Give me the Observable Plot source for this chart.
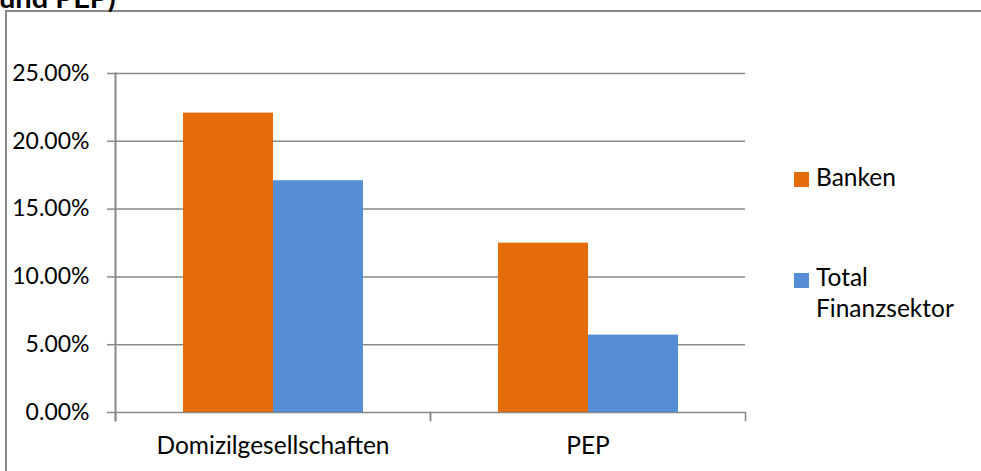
<!DOCTYPE html>
<html>
<head>
<meta charset="utf-8">
<script src="https://cdn.jsdelivr.net/npm/d3@7"></script>
<script src="https://cdn.jsdelivr.net/npm/@observablehq/plot@0.6"></script>
<style>
  html, body { margin: 0; padding: 0; background: #fff; }
  #wrap { position: relative; width: 981px; height: 471px; overflow: hidden; background: #fff; font-family: Lato, "Open Sans", sans-serif; color: #000; }
  #border { position: absolute; left: 5px; top: 10px; width: 990px; height: 480px; border-top: 2px solid #888; border-left: 2px solid #888; box-sizing: border-box; }
  #title { position: absolute; left: -1px; top: -17px; font-weight: bold; font-size: 29px; line-height: 28px; white-space: nowrap; }
  #chart { position: absolute; left: 0; top: 0; }
  .leg { position: absolute; left: 794px; }
  .sw { position: absolute; left: 0; width: 15px; height: 15px; }
  .lt { position: absolute; left: 22px; font-size: 24.5px; line-height: 30.5px; white-space: nowrap; }
</style>
</head>
<body>
<div id="wrap">
  <div id="border"></div>
  <div id="title">und PEP)</div>
  <div id="chart"></div>
  <div id="legend"></div>
</div>
<script>
const categories = ["Domizilgesellschaften", "PEP"];
const series = ["Banken", "Total Finanzsektor"];
const legendLines = [["Banken"], ["Total", "Finanzsektor"]];
const banken = [0.2208, 0.1249];
const totalFinanzsektor = [0.1709, 0.0571];
const yTicks = [0, 0.05, 0.10, 0.15, 0.20, 0.25];
const colors = ["#E46C0A", "#558ED5"];

const data = categories.flatMap((c, i) => [
  {category: c, series: series[0], value: banken[i]},
  {category: c, series: series[1], value: totalFinanzsektor[i]}
]);

const W = 981, H = 471, mT = 73, mB = 59, mL = 115, mR = 236;
const fmt = d => (d * 100).toFixed(2) + "%";

const chart = Plot.plot({
  width: W,
  height: H,
  marginTop: mT,
  marginBottom: mB,
  marginLeft: mL,
  marginRight: mR,
  style: {fontFamily: "Lato, 'Open Sans', sans-serif", fontSize: "23px", color: "#000", background: "transparent", overflow: "visible"},
  fx: {domain: categories, padding: 0, label: null},
  x: {domain: series, paddingInner: 0, paddingOuter: 0.75, axis: null},
  y: {domain: [0, 0.25], label: null, axis: null},
  color: {domain: series, range: colors},
  marks: [
    Plot.ruleY(yTicks, {stroke: "#888", strokeWidth: 1.5}),
    Plot.barY(data, {fx: "category", x: "series", y: "value", fill: "series"}),
    Plot.axisY({ticks: yTicks, tickFormat: fmt, tickSize: 8, tickPadding: 18, stroke: "#888", strokeWidth: 1.5, fill: "#000", fontSize: 23, label: null}),
    Plot.axisFx({anchor: "bottom", tickSize: 0, tickPadding: 24, fill: "#000", fontSize: 24.5, label: null}),
    Plot.frame({anchor: "left", facetAnchor: "left", insetBottom: -8, stroke: "#888", strokeWidth: 2}),
    Plot.frame({anchor: "right", insetTop: H - mT - mB, insetBottom: -8, stroke: "#888", strokeWidth: 1.5}),
    Plot.frame({anchor: "left", insetTop: H - mT - mB, insetBottom: -8, stroke: "#888", strokeWidth: 1.5})
  ]
});
document.getElementById("chart").appendChild(chart);

// legend
const legendTops = [161.5, 262.3];
const legend = document.getElementById("legend");
series.forEach((s, i) => {
  const g = document.createElement("div");
  g.className = "leg";
  g.style.top = legendTops[i] + "px";
  const sw = document.createElement("div");
  sw.className = "sw";
  sw.style.background = colors[i];
  sw.style.top = "10.5px";
  const t = document.createElement("div");
  t.className = "lt";
  t.innerHTML = legendLines[i].join("<br>");
  g.appendChild(sw);
  g.appendChild(t);
  legend.appendChild(g);
});
</script>
</body>
</html>
